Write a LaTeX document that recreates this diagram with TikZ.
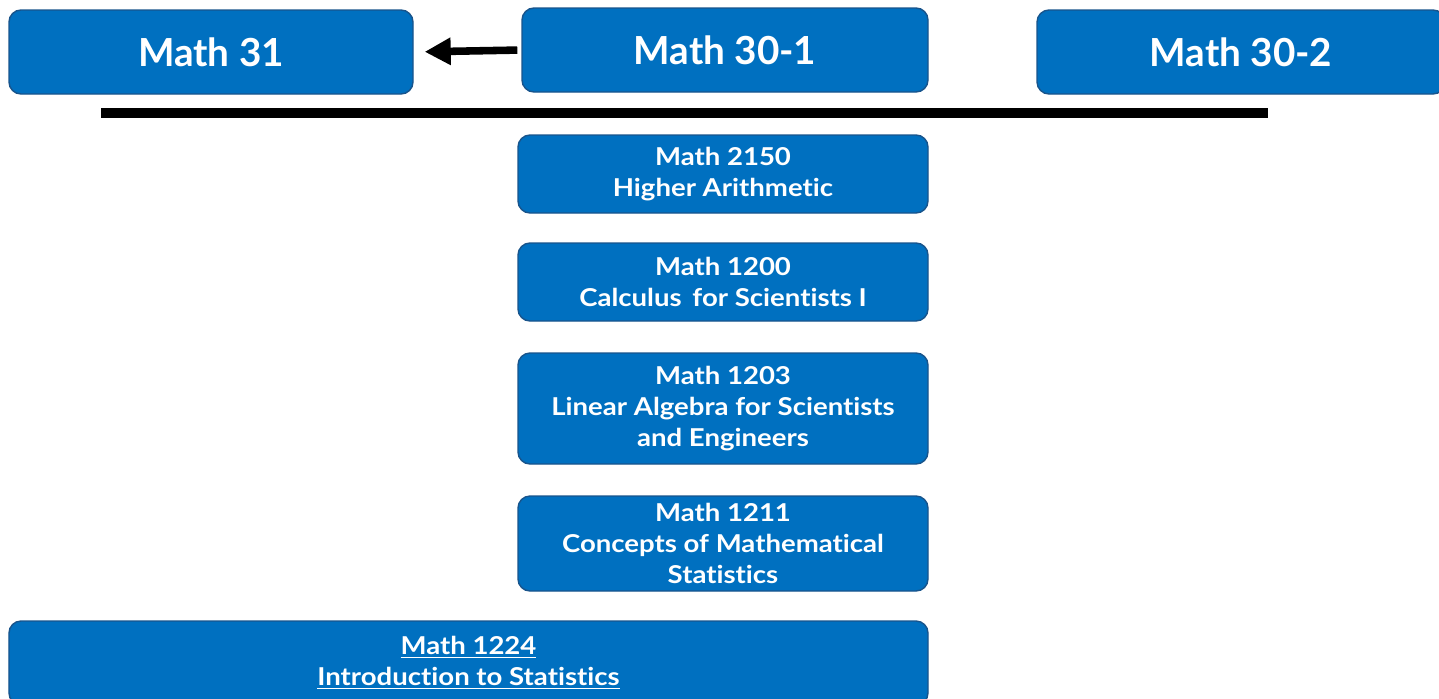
\documentclass[tikz,border=0pt]{standalone}
\usepackage{fontspec}
\setmainfont[Ligatures=NoCommon]{Lato}
\newfontfamily\widelato[FakeStretch=1.12,Ligatures=NoCommon]{Lato}
\usepackage{tikz}
\definecolor{ublue}{RGB}{0,112,192}
\definecolor{uedge}{RGB}{24,84,140}
\usetikzlibrary{arrows.meta}
\tikzstyle{entry} = [rectangle, rounded corners=0.24cm, minimum width=8.1cm, minimum height=1.68cm, inner sep=0pt, text centered, draw=uedge, line width=0.8pt, fill=ublue, text=white, font=\fontsize{22}{26}\selectfont\bfseries]
\tikzstyle{course} = [rectangle, rounded corners=0.24cm, minimum width=8.2cm, inner sep=0pt, align=center, draw=uedge, line width=0.8pt, fill=ublue, text=white, font=\widelato\fontsize{14}{17.5}\selectfont\bfseries]
\tikzstyle{arrow} = [line width=4.3pt, -{Triangle[length=0.52cm,width=0.52cm]}, shorten >=0.22cm, shorten <=0.08cm]

\begin{document}
\begin{tikzpicture}
        \useasboundingbox (0,0) rectangle (28.78,-13.96);

        \node (node0) [entry, minimum width=8.08cm] at (4.22,-1.04) {Math 31};
        \node (node1) [entry, minimum width=8.12cm] at (14.5,-1.0) {Math 30-1};
        \node (node2) [entry, minimum width=8.16cm] at (24.82,-1.04) {Math 30-2};

        \node (node3) [course, minimum height=1.56cm] at (14.46,-3.48) {Math 2150\\Higher Arithmetic};
        \node (node4) [course, minimum height=1.56cm] at (14.46,-5.64) {Math 1200\\Calculus\, for Scientists I};
        \node (node5) [course, minimum height=2.22cm] at (14.46,-8.17) {Math 1203\\Linear Algebra for Scientists\\and Engineers};
        \node (node6) [course, minimum height=1.9cm] at (14.46,-10.87) {Math 1211\\Concepts of Mathematical\\Statistics};
        \node (node7) [course, minimum width=18.38cm, minimum height=1.68cm] at (9.37,-13.26) {\underline{Math 1224}\\\underline{Introduction to Statistics}};

        % divider under the high school courses
        \coordinate (lineL) at (2.02,-2.26);
        \coordinate (lineR) at (25.36,-2.26);
        \draw [line width=0.2cm] (lineL) -- (lineR);

        \draw [arrow] (node1.west) -- (node0.east);
    \end{tikzpicture}
\end{document}
